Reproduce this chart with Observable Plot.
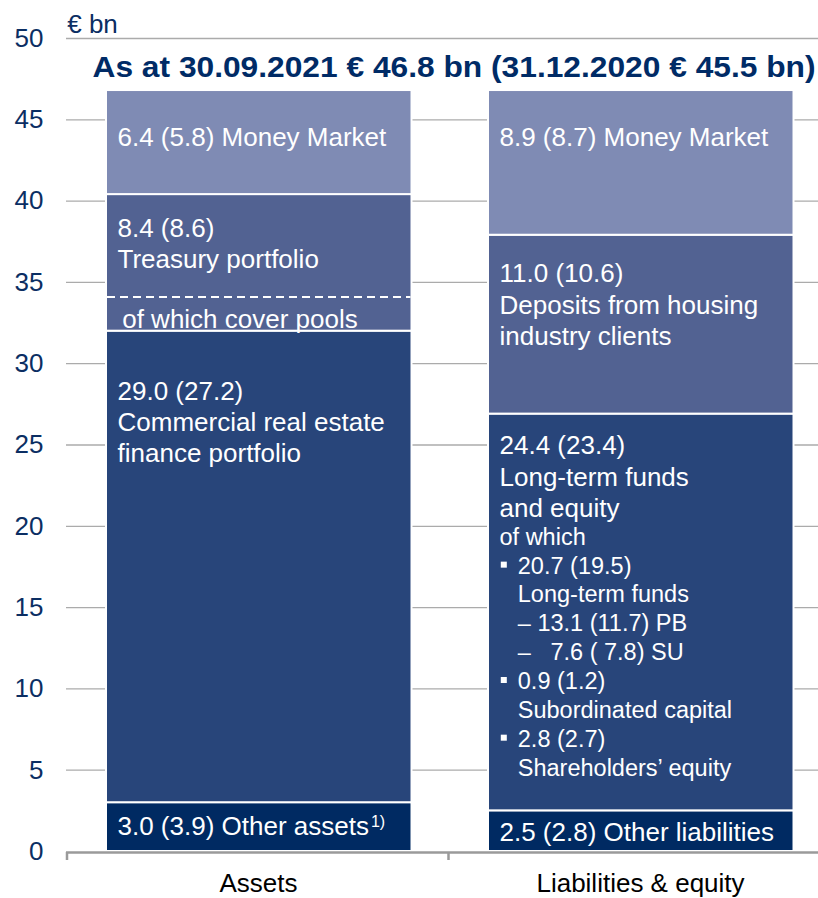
<!DOCTYPE html>
<html>
<head>
<meta charset="utf-8">
<script src="https://cdn.jsdelivr.net/npm/d3@7"></script>
<script src="https://cdn.jsdelivr.net/npm/@observablehq/plot@0.6"></script>
<style>
html, body { margin: 0; padding: 0; background: #ffffff; }
svg text { white-space: pre; }
</style>
</head>
<body>
<div id="chart"></div>
<script>
// ---------- data ----------
const categories = ["Assets", "Liabilities & equity"];
const segmentKeys = ["other", "core", "middle", "money"]; // bottom → top
const assetValues = [3.0, 29.0, 8.4, 6.4];
const liabilityValues = [2.5, 24.4, 11.0, 8.9];
const assetLabels = [
  "3.0 (3.9) Other assets",
  "29.0 (27.2)\nCommercial real estate\nfinance portfolio",
  "8.4 (8.6)\nTreasury portfolio",
  "6.4 (5.8) Money Market"
];
const liabilityLabels = [
  "2.5 (2.8) Other liabilities",
  "24.4 (23.4)\nLong-term funds\nand equity",
  "11.0 (10.6)\nDeposits from housing\nindustry clients",
  "8.9 (8.7) Money Market"
];
const coverPoolsValue = 2.1;
const coverPoolsLabel = "of which cover pools";
const footnoteMark = "1)";
const longTermDetailLines = [
  "of which",
  "20.7 (19.5)",
  "Long-term funds",
  "\u2013 13.1 (11.7) PB",
  "\u2013   7.6 ( 7.8) SU",
  "0.9 (1.2)",
  "Subordinated capital",
  "2.8 (2.7)",
  "Shareholders\u2019 equity"
];
const longTermDetailLevels = [0, 1, 1, 1, 1, 1, 1, 1, 1];
const longTermDetailBullets = [false, true, false, false, false, true, false, true, false];
const yTicks = [0, 5, 10, 15, 20, 25, 30, 35, 40, 45, 50];
const unitLabel = "\u20AC bn";
const title = "As at 30.09.2021 \u20AC 46.8 bn (31.12.2020 \u20AC 45.5 bn)";

// ---------- styles ----------
const segmentColors = ["#002a62", "#28457a", "#526292", "#7f8bb4"];
const navy = "#0b2e63";
const mainFont = 26, subFont = 23.5;
const labelDx = -141;
const baselineOffset = {
  "Assets|money": 52, "Assets|middle": 38.2, "Assets|core": 64.5, "Assets|other": 28.6,
  "Liabilities & equity|money": 52, "Liabilities & equity|middle": 43.3,
  "Liabilities & equity|core": 36.5, "Liabilities & equity|other": 26.5
};

// ---------- build stacked rows ----------
const rows = [];
[[categories[0], assetValues, assetLabels], [categories[1], liabilityValues, liabilityLabels]].forEach(([cat, vals, labels]) => {
  let cum = 0;
  vals.forEach((v, i) => {
    rows.push({category: cat, key: segmentKeys[i], value: v, y1: cum, y2: cum + v, label: labels[i]});
    cum += v;
  });
});
const treasuryRow = rows.find(r => r.category === categories[0] && r.key === "middle");
const coverTop = treasuryRow.y1 + coverPoolsValue;
const longTermRow = rows.find(r => r.category === categories[1] && r.key === "core");

const labelMarks = rows.map(r => Plot.text([r], {
  x: "category", y: "y2", text: "label",
  fill: "white", textAnchor: "start", lineAnchor: "top",
  fontSize: mainFont, lineHeight: 1.21,
  dx: labelDx, dy: baselineOffset[r.category + "|" + r.key] - 0.71 * mainFont
}));

const detailFirst = 130.7, detailStep = 28.84;
const detailMarks = longTermDetailLines.map((t, i) => Plot.text([t], {
  x: () => categories[1], y: () => longTermRow.y2, text: d => d,
  fill: "white", textAnchor: "start", lineAnchor: "top", fontSize: subFont,
  dx: labelDx + longTermDetailLevels[i] * 18.3,
  dy: detailFirst + i * detailStep - 0.71 * subFont
}));
const bulletMarks = longTermDetailBullets.map((b, i) => b ? Plot.dot([longTermRow], {
  x: "category", y: "y2", symbol: "square", r: 3.4,
  fill: "white", stroke: "none",
  dx: labelDx + 4.3,
  dy: detailFirst + i * detailStep - 9
}) : null).filter(Boolean);

const chart = Plot.plot({
  width: 818,
  height: 898,
  marginTop: 38,
  marginBottom: 47,
  marginLeft: 66,
  marginRight: 0,
  style: {fontFamily: "'Liberation Sans', Arial, sans-serif", fontSize: "26px", background: "white", overflow: "visible"},
  x: {type: "band", domain: categories, range: [66, 831], padding: 0, axis: null},
  y: {domain: [0, 50], axis: null},
  color: {domain: segmentKeys, range: segmentColors},
  marks: [
    Plot.ruleY(yTicks.filter(t => t > 0), {y: d => d, stroke: "#ababab", strokeWidth: 1.3}),
    Plot.barY(rows, {x: "category", y1: "y1", y2: "y2", fill: "key", stroke: "white", strokeWidth: 2, insetLeft: 39, insetRight: 37.5}),
    Plot.tickY([coverTop], {x: () => categories[0], y: d => d, stroke: "white", strokeWidth: 2, strokeDasharray: "8,5", insetLeft: 40, insetRight: 38.5}),
    Plot.ruleY([0], {y: d => d, stroke: "#9a9a9a", strokeWidth: 2.5, dy: 1}),
    Plot.text(yTicks, {y: d => d, text: d => String(d), frameAnchor: "left", textAnchor: "end", dx: -23, fill: navy, fontSize: mainFont}),
    Plot.text(categories, {x: d => d, text: d => d, frameAnchor: "bottom", lineAnchor: "top", dy: 22.5, fill: "black", fontSize: mainFont}),
    Plot.text([unitLabel], {text: d => d, frameAnchor: "top-left", textAnchor: "start", lineAnchor: "top", dx: 0.7, dy: 32 - 38 - 0.71 * mainFont, fill: navy, fontSize: mainFont}),
    Plot.text([title], {text: d => d, frameAnchor: "top", textAnchor: "start", lineAnchor: "top", dx: 92 - (66 + 818) / 2, dy: 76.5 - 38 - 0.71 * 29, fill: "#002b66", fontSize: 29, fontWeight: "bold"}),
    ...labelMarks,
    Plot.text([coverPoolsLabel], {x: () => categories[0], y: () => coverTop, text: d => d, fill: "white", textAnchor: "start", lineAnchor: "top", fontSize: mainFont, dx: labelDx + 4.7, dy: 31 - 0.71 * mainFont}),
    ...detailMarks,
    ...bulletMarks
  ]
});

document.getElementById("chart").appendChild(chart);

// ---------- post-processing through the library's scales ----------
const svg = d3.select(chart);
const sx = chart.scale("x");
const sy = chart.scale("y");
const y0 = sy.apply(0) + 1;
const step = (sx.range[1] - sx.range[0]) / sx.domain.length;
const tickG = svg.append("g").attr("stroke", "#9a9a9a").attr("stroke-width", 2.5);
for (let i = 0; i <= categories.length; i++) {
  const x = sx.range[0] + i * step + (i === 0 ? 1 : 0);
  tickG.append("line").attr("x1", x).attr("x2", x).attr("y1", y0).attr("y2", y0 + 8);
}
// title width
svg.selectAll("text").filter(function() { return this.textContent === title; })
  .attr("textLength", 723).attr("lengthAdjust", "spacingAndGlyphs");
// footnote superscript
svg.selectAll("text").filter(function() { return this.textContent === assetLabels[0]; })
  .append("tspan").attr("font-size", 16).attr("dx", 2).attr("dy", -8).text(footnoteMark);
</script>
</body>
</html>
